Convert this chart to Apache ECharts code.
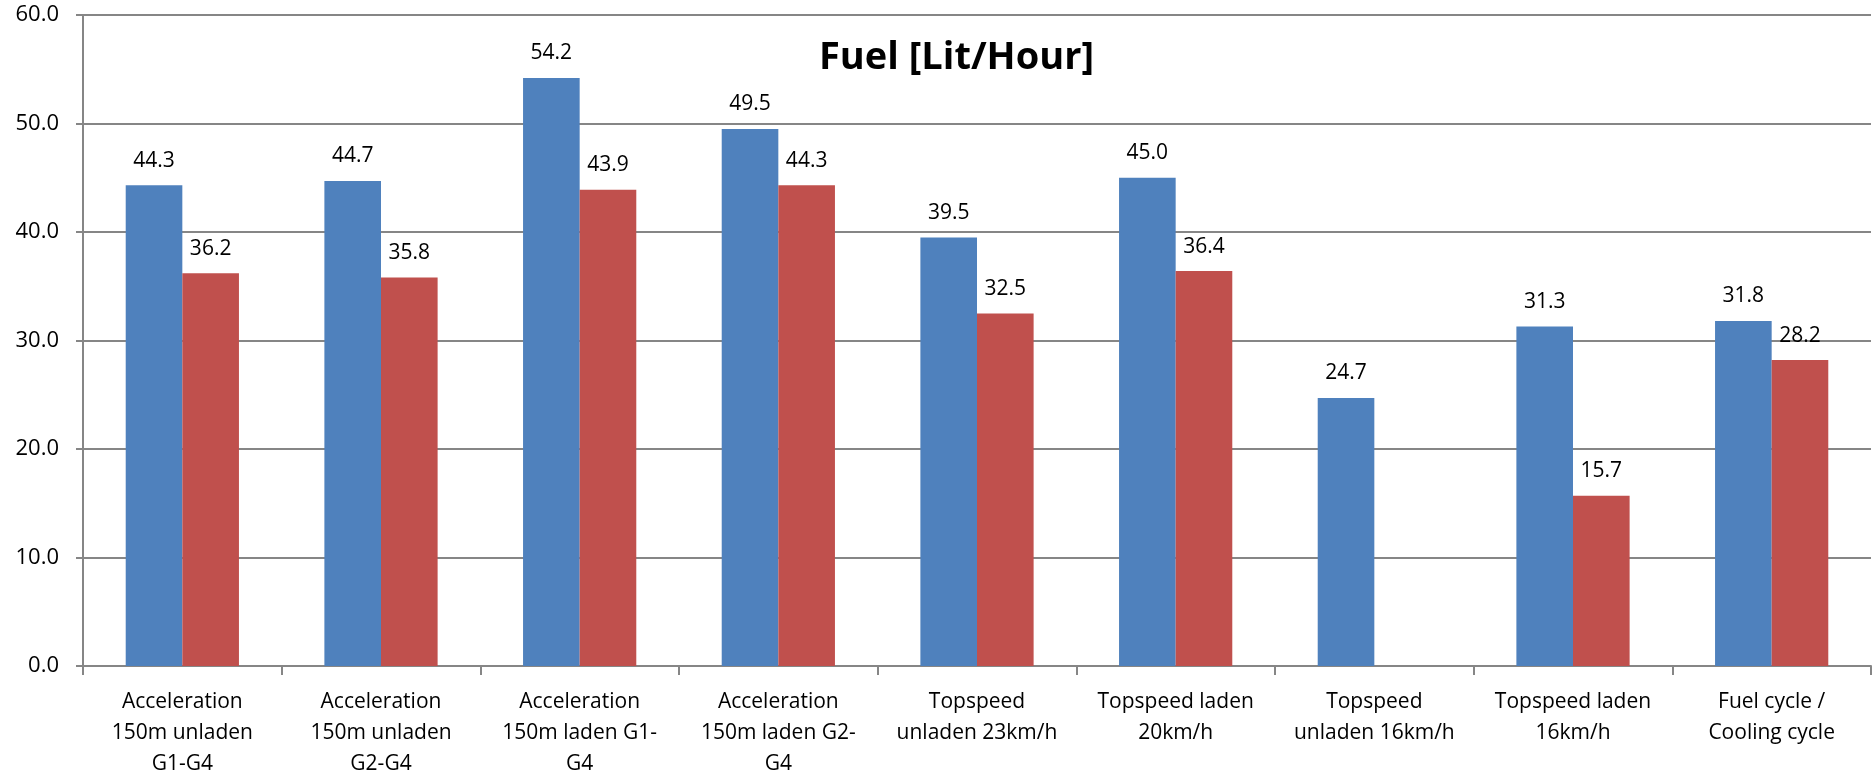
<!DOCTYPE html>
<html>
<head>
<meta charset="utf-8">
<script src="https://cdn.jsdelivr.net/npm/echarts@6/dist/echarts.min.js"></script>
<style>
html, body { margin: 0; padding: 0; background: #fff; }
#chart { width: 1873px; height: 780px; }
</style>
</head>
<body>
<div id="chart"></div>
<script>
// categories (x axis)
var categories = [
	'Acceleration\n150m unladen\nG1-G4',
	'Acceleration\n150m unladen\nG2-G4',
	'Acceleration\n150m laden G1-\nG4',
	'Acceleration\n150m laden G2-\nG4',
	'Topspeed\nunladen 23km/h',
	'Topspeed laden\n20km/h',
	'Topspeed\nunladen 16km/h',
	'Topspeed laden\n16km/h',
	'Fuel cycle /\nCooling cycle'
];
// blue series
var blueValues = [44.3, 44.7, 54.2, 49.5, 39.5, 45.0, 24.7, 31.3, 31.8];
// red series (no value for Topspeed unladen 16km/h)
var redValues = [36.2, 35.8, 43.9, 44.3, 32.5, 36.4, null, 15.7, 28.2];

var FONT = '"Open Sans", sans-serif';

var myChart = echarts.init(document.getElementById('chart'));

// data label style shared by both series
var dataLabel = {
	show: true, position: 'top', distance: 14,
	fontFamily: FONT, fontSize: 21, color: '#000',
	formatter: function (p) { return p.value == null ? '' : p.value.toFixed(1); }
};

var option = {
	animation: false,
	title: {
		text: 'Fuel [Lit/Hour]',
		left: 814,
		top: 34,
		textStyle: { fontFamily: FONT, fontWeight: 'bold', fontSize: 38, color: '#000' }
	},
	grid: { left: 83, right: 2, top: 15, bottom: 112, containLabel: false },
	xAxis: {
		type: 'category',
		data: categories,
		axisLine: { lineStyle: { color: '#868686', width: 2 } },
		axisTick: { show: true, length: 9, lineStyle: { color: '#868686', width: 2 } },
		axisLabel: {
			interval: 0, margin: 21, fontFamily: FONT,
			fontSize: 21, lineHeight: 31, color: '#000'
		}
	},
	yAxis: {
		type: 'value',
		min: 0, max: 60, interval: 10,
		axisLine: { show: true, lineStyle: { color: '#868686', width: 2 } },
		axisTick: { show: true, length: 7, lineStyle: { color: '#868686', width: 2 } },
		splitLine: { lineStyle: { color: '#868686', width: 2 } },
		axisLabel: {
			fontFamily: FONT, fontSize: 22, color: '#000', margin: 24,
			formatter: function (v) { return v.toFixed(1); }
		}
	},
	series: [
		{
			type: 'bar',
			data: blueValues,
			barGap: '0%',
			barCategoryGap: '43%',
			itemStyle: { color: '#4F81BD' },
			label: dataLabel
		},
		{
			type: 'bar',
			data: redValues,
			itemStyle: { color: '#C0504D' },
			label: dataLabel
		}
	]
};
myChart.setOption(option);
</script>
</body>
</html>
